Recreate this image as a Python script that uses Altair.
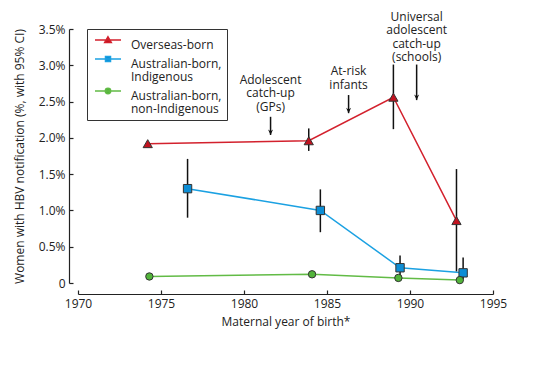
import altair as alt
import pandas as pd

# ---------------- data ----------------
series_names = ["Overseas-born", "Australian-born,|Indigenous", "Australian-born,|non-Indigenous"]

years_overseas = [1974.2, 1983.9, 1989.0, 1992.8]
vals_overseas = [1.92, 1.96, 2.56, 0.86]
lo_overseas = [1.90, 1.82, 2.12, 0.16]
hi_overseas = [1.94, 2.13, 3.01, 1.57]

years_indig = [1976.6, 1984.6, 1989.4, 1993.2]
vals_indig = [1.30, 1.00, 0.21, 0.14]
lo_indig = [0.90, 0.70, 0.10, 0.05]
hi_indig = [1.71, 1.29, 0.38, 0.35]

years_nonindig = [1974.3, 1984.1, 1989.3, 1993.0]
vals_nonindig = [0.09, 0.12, 0.07, 0.04]
lo_nonindig = [0.08, 0.11, 0.06, 0.03]
hi_nonindig = [0.10, 0.13, 0.08, 0.05]

x_ticks = [1970, 1975, 1980, 1985, 1990, 1995]
y_ticks = [0, 0.5, 1.0, 1.5, 2.0, 2.5, 3.0, 3.5]

ann_text = ["Adolescent", "catch-up", "(GPs)", "At-risk", "infants",
            "Universal", "adolescent", "catch-up", "(schools)"]
ann_x = [1981.6, 1981.6, 1981.6, 1986.3, 1986.3, 1990.4, 1990.4, 1990.4, 1990.4]
ann_y = [2.80, 2.615, 2.43, 2.92, 2.73, 3.67, 3.485, 3.30, 3.12]

arrow_x = [1981.6, 1986.3, 1990.4]
arrow_top = [2.29, 2.59, 3.01]
arrow_bottom = [2.04, 2.34, 2.52]

# ---------------- styles ----------------
line_colors = ["#d3212d", "#1ba1e2", "#62bb46"]
fill_colors = ["#c1121f", "#0d8ed6", "#52b43a"]
shapes = ["triangle-up", "square", "circle"]
marker_sizes = [85, 70, 55]
legend_paths = [
    "M-1,0L7.67,0M3.33,-1.05L4.43,0.85L2.23,0.85Z",
    "M-1,0L7.67,0M2.5,-0.83L4.17,-0.83L4.17,0.83L2.5,0.83Z",
    "M-1,0L7.67,0M4.23,0A0.9,0.9,0,1,1,2.43,0A0.9,0.9,0,1,1,4.23,0Z",
]

rows = []
for i, (yrs, vals, los, his) in enumerate([
    (years_overseas, vals_overseas, lo_overseas, hi_overseas),
    (years_indig, vals_indig, lo_indig, hi_indig),
    (years_nonindig, vals_nonindig, lo_nonindig, hi_nonindig),
]):
    for yr, v, lo, hi in zip(yrs, vals, los, his):
        rows.append(dict(series=series_names[i], year=yr, value=v, lo=lo, hi=hi,
                         linecolor=line_colors[i], fillcolor=fill_colors[i],
                         shape=shapes[i], size=marker_sizes[i], order=i))
df = pd.DataFrame(rows)
ann_df = pd.DataFrame(dict(text=ann_text, x=ann_x, y=ann_y))
arrow_df = pd.DataFrame(dict(x=arrow_x, top=arrow_top, bottom=arrow_bottom))

W, H = 415, 254
FONT = "Open Sans"
TXT = "#222222"

xscale = alt.Scale(domain=[1970, 1995], nice=False, zero=False)
yscale = alt.Scale(domain=[0, 3.5], nice=False, zero=False)

# lines with main axes
lines = alt.Chart(df).mark_line(strokeWidth=1.5).encode(
    x=alt.X("year:Q", scale=xscale, axis=alt.Axis(
        orient="bottom", offset=11, values=x_ticks, format="d", labelFlush=False,
        ticks=False, tickSize=0, labelPadding=4, domainColor="#222", domainWidth=1.2,
        grid=False, title="Maternal year of birth*", titlePadding=7)),
    y=alt.Y("value:Q", scale=yscale, axis=alt.Axis(
        orient="left", offset=9, values=y_ticks, labelFlush=False,
        labelExpr="datum.value == 0 ? '0' : format(datum.value, '.1f') + '%'",
        ticks=False, tickSize=0, labelPadding=4, domainColor="#222", domainWidth=1.2,
        grid=False, title="Women with HBV notification (%, with 95% CI)", titlePadding=12)),
    stroke=alt.Stroke("linecolor:N", scale=None),
    detail="series:N",
    order="year:Q",
)

# error bars, carrying inward tick-only axes
bars = alt.Chart(df).mark_rule(color="#111111", strokeWidth=1.5).encode(
    x=alt.X("year:Q", scale=xscale, axis=alt.Axis(
        orient="top", offset=-(H + 11), values=x_ticks, labels=False, domain=False,
        ticks=True, tickSize=4, tickColor="#222", tickWidth=1.2, grid=False, title=None)),
    y=alt.Y("lo:Q", scale=yscale, axis=alt.Axis(
        orient="right", offset=-(W + 9), values=y_ticks, labels=False, domain=False,
        ticks=True, tickSize=4, tickColor="#222", tickWidth=1.2, grid=False, title=None)),
    y2="hi:Q",
)

points = alt.Chart(df).mark_point(filled=True, opacity=1, stroke="#333333", strokeWidth=1).encode(
    x=alt.X("year:Q", scale=xscale, axis=None),
    y=alt.Y("value:Q", scale=yscale, axis=None),
    fill=alt.Fill("fillcolor:N", scale=None),
    shape=alt.Shape("shape:N", scale=None),
    size=alt.Size("size:Q", scale=None),
)

leg = alt.Legend(
    orient="none", legendX=9, legendY=0, title=None,
    labelExpr="split(datum.label, '|')",
    labelFont=FONT, labelFontSize=12, labelColor=TXT, labelOffset=27, labelLimit=0,
    labelBaseline="top",
    symbolSize=36, symbolStrokeWidth=1.5,
    strokeColor="#333333", padding=5, rowPadding=2,
)
legend_layer = alt.Chart(df).transform_filter("datum.year < 0").mark_point(
    filled=True, opacity=1, size=36, strokeWidth=1.5).encode(
    x=alt.X("year:Q", scale=xscale, axis=None),
    y=alt.Y("value:Q", scale=yscale, axis=None),
    fill=alt.Fill("series:N", scale=alt.Scale(domain=series_names, range=fill_colors), legend=leg),
    stroke=alt.Stroke("series:N", scale=alt.Scale(domain=series_names, range=line_colors), legend=leg),
    shape=alt.Shape("series:N", scale=alt.Scale(domain=series_names, range=legend_paths), legend=leg),
)

ann = alt.Chart(ann_df).mark_text(font=FONT, fontSize=12, color=TXT, baseline="middle", align="center").encode(
    x=alt.X("x:Q", scale=xscale, axis=None),
    y=alt.Y("y:Q", scale=yscale, axis=None),
    text="text:N",
)
arrow_lines = alt.Chart(arrow_df).mark_rule(color="#111111", strokeWidth=1.5).encode(
    x=alt.X("x:Q", scale=xscale, axis=None),
    y=alt.Y("top:Q", scale=yscale, axis=None),
    y2="bottom:Q",
)
arrow_heads = alt.Chart(arrow_df).mark_point(
    filled=True, opacity=1, color="#111111", size=25,
    shape="M0,0L-1,-2.2L0,-1.5L1,-2.2Z").encode(
    x=alt.X("x:Q", scale=xscale, axis=None),
    y=alt.Y("bottom:Q", scale=yscale, axis=None),
)

chart = alt.layer(lines, bars, points, legend_layer, ann, arrow_lines, arrow_heads).resolve_axis(
    x="independent", y="independent"
).resolve_scale(shape="independent", fill="independent", stroke="independent", size="independent").properties(
    width=W, height=H,
    autosize=alt.AutoSizeParams(type="none"),
    padding={"left": 70, "top": 21, "right": 50, "bottom": 60},
).configure(
    style={"guide-label": {"lineHeight": 13}}
).configure_view(stroke=None).configure_axis(
    labelFont=FONT, labelFontSize=12, labelColor=TXT,
    titleFont=FONT, titleFontSize=12, titleFontWeight="normal", titleColor=TXT,
)

chart.save("out.html", embed_options={"renderer": "svg", "actions": False})
